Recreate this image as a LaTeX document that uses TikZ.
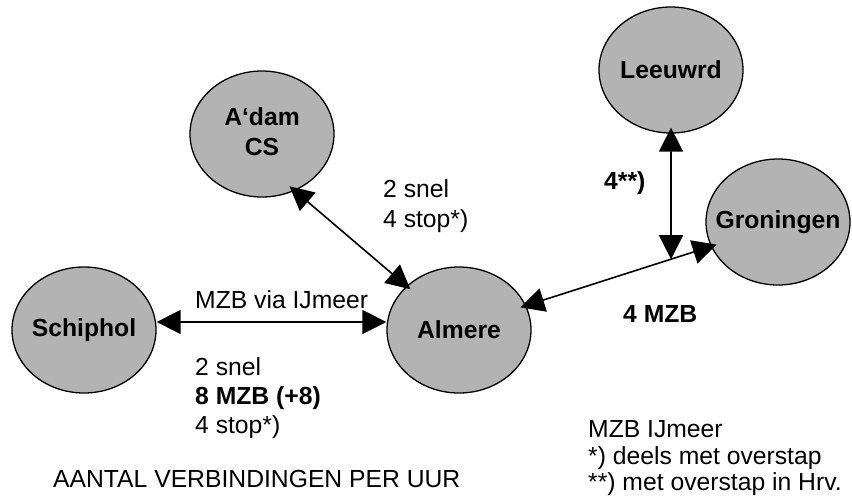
\documentclass[tikz,border=0pt]{standalone}
\usepackage{fontspec}
\setmainfont{Liberation Sans}
\usetikzlibrary{shapes.geometric,arrows.meta}
\definecolor{nodefill}{RGB}{179,179,179}
\tikzset{
 city/.style={ellipse, draw=black, line width=1.3pt, fill=nodefill, minimum width=144pt, minimum height=126pt, inner sep=0pt, font=\bfseries\fontsize{24.7}{30}\selectfont},
 link/.style={line width=1.6pt, {Triangle[length=24pt,width=24pt]}-{Triangle[length=24pt,width=24pt]}},
 lbl/.style={anchor=base west, inner sep=0pt, font=\fontsize{24.7}{30}\selectfont},
 blbl/.style={anchor=base west, inner sep=0pt, font=\bfseries\fontsize{24.7}{30}\selectfont},
}
\begin{document}
\begin{tikzpicture}[x=1pt,y=-1pt]
\useasboundingbox (0,0) rectangle (852,498);
\node[city] (adam) at (262,134) {\makebox[0pt]{\begin{tabular}{@{}c@{}}A‘dam\\CS\end{tabular}}};
\node[city] (schiphol) at (84,330) {\makebox[0pt]{Schiphol}};
\node[city] (almere) at (459,330) {\makebox[0pt]{Almere}};
\node[city] (leeuwrd) at (671,70) {\makebox[0pt]{Leeuwrd}};
\node[city] (groningen) at (778,222) {\makebox[0pt]{Groningen}};

\draw[link, shorten <=-7pt, shorten >=-5pt] (adam.-60) -- (almere.140);
\draw[link] ([yshift=8pt]schiphol.east) -- ([yshift=8pt]almere.west);
\draw[link, shorten <=-6pt, shorten >=-6pt] (almere.20) -- (groningen.200);
\coordinate (j) at (intersection of leeuwrd.south--leeuwrd.north and almere.20--groningen.200);
\draw[link, shorten <=-6pt] (leeuwrd.south) -- (j);

\node[lbl] (t1) at (383,197) {2 snel};
\node[lbl] (t2) at (383,227) {4 stop*)};
\node[blbl] (t3) at (604,189) {4**)};
\node[blbl] (t4) at (623,322) {4 MZB};
\node[lbl] (t5) at (195,308) {MZB via IJmeer};
\node[lbl] (t6) at (195,375) {2 snel};
\node[blbl] (t7) at (195,404) {8 MZB (+8)};
\node[lbl] (t8) at (195,433) {4 stop*)};
\node[lbl] (t9) at (53,487) {AANTAL VERBINDINGEN PER UUR};
\node[lbl] (t10) at (588,437) {MZB IJmeer};
\node[lbl] (t11) at (588,464) {*) deels met overstap};
\node[lbl] (t12) at (588,490) {**) met overstap in Hrv.};
\end{tikzpicture}
\end{document}
